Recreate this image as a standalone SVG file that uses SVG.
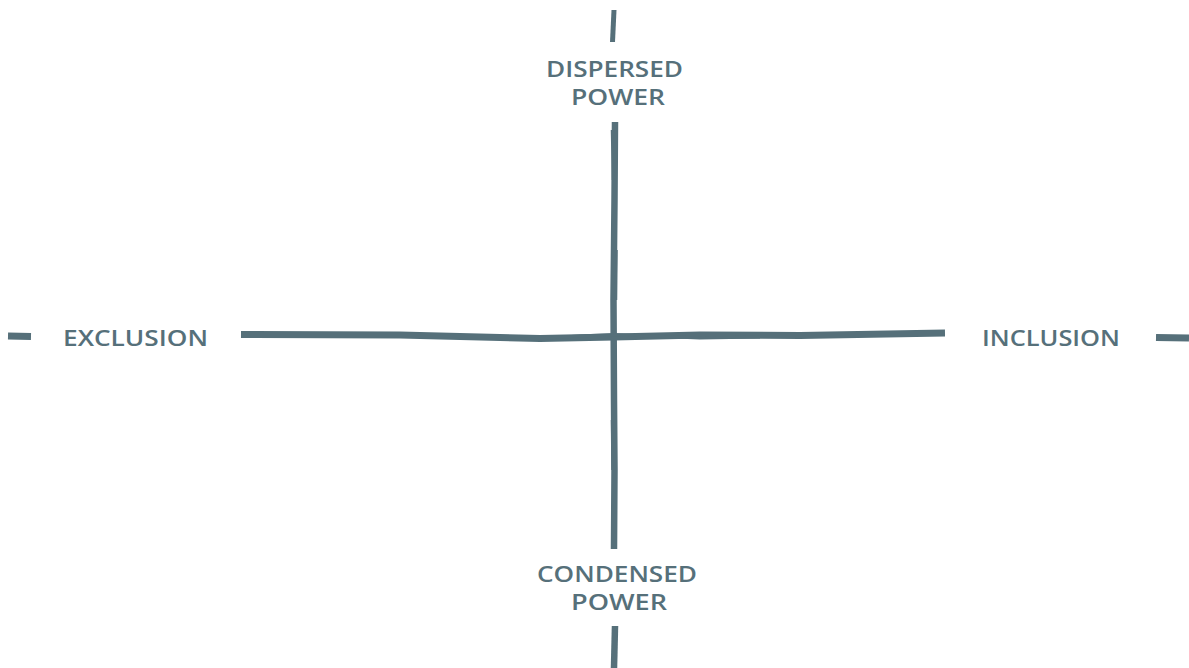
<svg xmlns="http://www.w3.org/2000/svg" width="1189" height="668" viewBox="0 0 1189 668">
<style>
.ln{stroke:#56707a;fill:none;stroke-linecap:butt;stroke-linejoin:round}
.lb{font-family:"Open Sans","Liberation Sans",Arial,sans-serif;font-weight:600;font-size:21px;fill:#56707a;text-anchor:middle}
</style>
<rect width="1189" height="668" fill="#ffffff"/>
<g id="axes" class="connectors">
<path class="ln" stroke-width="5" d="M614 10 L612.5 42"/>
<path class="ln" stroke-width="6.5" d="M615 122 L614.5 200 L613.5 300 L614 400 L614.5 470 L614 549"/>
<path class="ln" stroke-width="2.5" d="M612 130 L613 180 M616.5 250 L616 300 M612 420 L612.5 470"/>
<path class="ln" stroke-width="6.5" d="M615 626 L614 668"/>
<path class="ln" stroke-width="7" d="M8 336 L31 336.5"/>
<path class="ln" stroke-width="7" d="M241 334.5 L400 335 L540 338.5 L614 337 L700 335 L800 335.5 L945 333"/>
<path class="ln" stroke-width="3" d="M520 339.5 L580 336 L614 334.5 L700 338 L760 337"/>
<path class="ln" stroke-width="7" d="M1156 337.5 L1189 338"/>
</g>
<g id="dispersed"><text class="lb" x="614.5" y="77" textLength="137" lengthAdjust="spacingAndGlyphs">DISPERSED</text><text class="lb" x="618" y="105" textLength="94" lengthAdjust="spacingAndGlyphs">POWER</text></g>
<g id="exclusion"><text class="lb" x="135.5" y="346" textLength="145" lengthAdjust="spacingAndGlyphs">EXCLUSION</text></g>
<g id="inclusion"><text class="lb" x="1051" y="346" textLength="138" lengthAdjust="spacingAndGlyphs">INCLUSION</text></g>
<g id="condensed"><text class="lb" x="617" y="582" textLength="160" lengthAdjust="spacingAndGlyphs">CONDENSED</text><text class="lb" x="619" y="610" textLength="96" lengthAdjust="spacingAndGlyphs">POWER</text></g>
</svg>
